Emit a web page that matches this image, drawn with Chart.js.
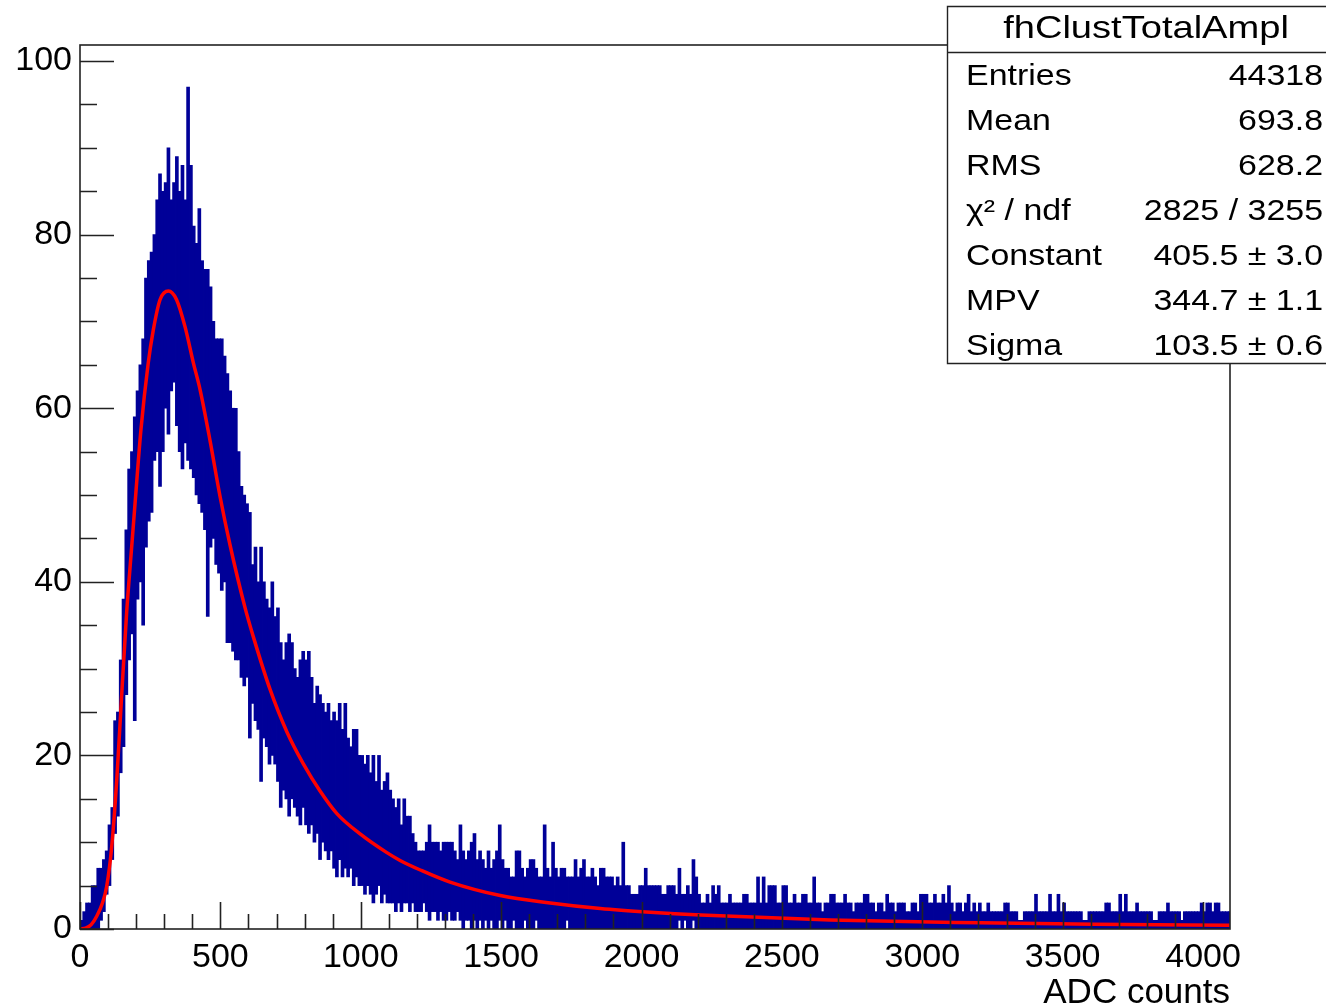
<!DOCTYPE html>
<html>
<head>
<meta charset="utf-8">
<script src="https://cdn.jsdelivr.net/npm/chart.js@4/dist/chart.umd.min.js"></script>
<style>
  html, body { margin: 0; padding: 0; background: #ffffff; }
  #wrap { width: 1326px; height: 1008px; position: relative; }
  canvas { display: block; }
</style>
</head>
<body>
<div id="wrap"><canvas id="c" width="1326" height="1008"></canvas></div>
<script>
// ---- histogram fhClustTotalAmpl, drawn as per-slice [low, high] count ranges ----
const SLICE_WIDTH = 10;      // ADC counts covered by one drawn slice
const ADC_MAX = 4096;
const Y_MAX = 101.85;

// highest bin content inside each 10-count slice (slice i starts at i*10)
const histHigh = [
  1, 2, 3, 3, 5, 5, 7, 7, 8, 9,             // 0
  12, 14, 24, 25, 31, 38, 46, 53, 55, 59,   // 100
  62, 65, 68, 75, 77, 78, 80, 84, 87, 85,   // 200
  86, 90, 84, 86, 89, 85, 88, 84, 97, 88,   // 300
  81, 79, 83, 77, 76, 76, 74, 70, 68, 68,   // 400
  68, 66, 64, 62, 60, 60, 55, 51, 50, 49,   // 500
  48, 42, 44, 40, 44, 40, 38, 37, 40, 36,   // 600
  37, 33, 31, 33, 34, 33, 30, 29, 31, 32,   // 700
  31, 32, 29, 26, 28, 27, 26, 25, 26, 24,   // 800
  25, 24, 26, 23, 26, 22, 21, 23, 23, 20,   // 900
  20, 19, 20, 18, 20, 17, 20, 16, 17, 18,   // 1000
  16, 15, 14, 15, 12, 15, 13, 13, 11, 10,   // 1100
  9, 9, 9, 10, 12, 10, 10, 10, 9, 10,       // 1200
  10, 10, 10, 9, 8, 12, 9, 8, 9, 10,        // 1300
  11, 8, 9, 8, 7, 9, 7, 8, 9, 12,           // 1400
  8, 7, 7, 6, 6, 9, 9, 7, 6, 7,             // 1500
  8, 8, 7, 6, 6, 12, 7, 6, 10, 7,           // 1600
  6, 7, 7, 6, 6, 6, 8, 6, 7, 8,             // 1700
  6, 6, 7, 6, 5, 7, 7, 6, 6, 6,             // 1800
  5, 6, 5, 10, 5, 5, 4, 4, 4, 5,            // 1900
  5, 7, 5, 5, 5, 5, 5, 4, 4, 5,             // 2000
  5, 5, 4, 7, 4, 4, 5, 4, 8, 6,             // 2100
  4, 3, 3, 4, 3, 5, 4, 5, 3, 3,             // 2200
  3, 4, 3, 3, 3, 3, 4, 4, 3, 3,             // 2300
  3, 6, 3, 6, 3, 5, 5, 5, 3, 3,             // 2400
  5, 5, 3, 3, 4, 3, 3, 4, 4, 3,             // 2500
  3, 6, 3, 3, 2, 3, 3, 4, 4, 3,             // 2600
  3, 3, 4, 3, 3, 2, 3, 3, 3, 4,             // 2700
  4, 3, 3, 2, 3, 3, 2, 4, 3, 3,             // 2800
  2, 3, 3, 3, 2, 2, 3, 3, 2, 4,             // 2900
  4, 4, 3, 3, 4, 3, 3, 4, 3, 5,             // 3000
  3, 2, 3, 3, 2, 3, 4, 2, 3, 2,             // 3100
  3, 2, 2, 3, 2, 2, 2, 2, 2, 3,             // 3200
  3, 2, 2, 2, 1, 1, 2, 2, 2, 2,             // 3300
  4, 2, 2, 2, 2, 4, 2, 2, 4, 2,             // 3400
  3, 2, 2, 2, 2, 2, 2, 1, 1, 2,             // 3500
  2, 2, 2, 2, 2, 3, 3, 2, 2, 2,             // 3600
  4, 2, 4, 2, 2, 2, 3, 2, 2, 2,             // 3700
  2, 2, 1, 1, 2, 2, 2, 3, 2, 2,             // 3800
  2, 2, 1, 2, 2, 2, 2, 2, 2, 3,             // 3900
  2, 3, 3, 2, 3, 3, 2, 2, 2, 2              // 4000
];

// lowest bin content inside each slice
const histLow = [
  0, 0, 0, 0, 0, 0, 0, 1, 2, 4,             // 0
  5, 8, 11, 13, 18, 21, 27, 31, 34, 24,     // 100
  38, 40, 35, 44, 47, 48, 54, 55, 51, 55,   // 200
  60, 57, 62, 63, 58, 55, 53, 56, 54, 53,   // 300
  52, 50, 49, 48, 46, 36, 44, 45, 42, 41,   // 400
  39, 40, 33, 33, 32, 31, 31, 29, 28, 29,   // 500
  22, 26, 24, 23, 17, 22, 21, 19, 20, 19,   // 600
  17, 14, 16, 15, 13, 15, 14, 13, 12, 14,   // 700
  12, 11, 12, 10, 11, 8, 10, 9, 8, 9,       // 800
  7, 6, 8, 6, 7, 6, 7, 5, 6, 5,             // 900
  5, 4, 5, 4, 3, 4, 5, 3, 4, 3,             // 1000
  3, 3, 2, 3, 2, 3, 3, 2, 3, 2,             // 1100
  2, 2, 3, 2, 1, 2, 2, 1, 2, 1,             // 1200
  1, 2, 1, 1, 2, 1, 0, 1, 1, 0,             // 1300
  1, 0, 1, 0, 1, 0, 1, 0, 0, 1,             // 1400
  0, 1, 0, 0, 1, 0, 0, 0, 1, 0,             // 1500
  0, 0, 1, 0, 0, 0, 0, 0, 0, 0,             // 1600
  0, 0, 0, 1, 0, 0, 0, 0, 0, 0,             // 1700
  0, 0, 0, 0, 0, 0, 0, 0, 0, 0,             // 1800
  0, 0, 0, 0, 0, 0, 0, 0, 0, 0,             // 1900
  0, 0, 0, 0, 0, 0, 0, 0, 0, 0,             // 2000
  0, 0, 0, 1, 0, 1, 0, 0, 1, 0,             // 2100
  0, 0, 0, 0, 0, 0, 0, 0, 0, 0,             // 2200
  0, 0, 0, 0, 0, 0, 0, 0, 0, 0,             // 2300
  0, 0, 0, 0, 0, 0, 0, 0, 0, 0,             // 2400
  0, 0, 0, 0, 0, 0, 0, 0, 0, 0,             // 2500
  0, 0, 0, 0, 0, 0, 0, 0, 0, 0,             // 2600
  0, 0, 0, 0, 0, 0, 0, 0, 0, 0,             // 2700
  0, 0, 0, 0, 0, 0, 0, 0, 0, 0,             // 2800
  0, 0, 0, 0, 0, 0, 0, 0, 0, 0,             // 2900
  0, 0, 0, 0, 0, 0, 0, 0, 0, 0,             // 3000
  0, 0, 0, 0, 0, 0, 0, 0, 0, 0,             // 3100
  0, 0, 0, 0, 0, 0, 0, 0, 0, 0,             // 3200
  0, 0, 0, 0, 0, 0, 0, 0, 0, 0,             // 3300
  0, 0, 0, 0, 0, 0, 0, 0, 0, 0,             // 3400
  0, 0, 0, 0, 0, 0, 0, 0, 0, 0,             // 3500
  0, 0, 0, 0, 0, 0, 0, 0, 0, 0,             // 3600
  0, 0, 0, 0, 0, 0, 0, 0, 0, 0,             // 3700
  0, 0, 0, 0, 0, 0, 0, 0, 0, 0,             // 3800
  0, 0, 0, 0, 0, 0, 0, 0, 0, 0,             // 3900
  0, 0, 0, 0, 0, 0, 0, 0, 0, 0              // 4000
];

// Landau fit curve, sampled along the ADC axis
const fitAdc = [0, 20, 40, 60, 80, 95, 113, 131, 148, 166, 184, 196, 217, 243, 261, 285,
  315, 344, 374, 404, 428, 463, 499, 534, 588, 618, 677, 737, 796, 855, 915, 1000,
  1093, 1140, 1212, 1318, 1497, 1675, 1853, 2031, 2210, 2672, 3206, 3611, 4096];
const fitValue = [0, 0.1, 0.5, 1.5, 3.0, 4.9, 9.5, 17.2, 26.7, 36.4, 44.0, 49.0, 57.5, 65.2, 69.0, 72.5,
  73.5, 72.5, 69.4, 65.2, 62.1, 56.3, 49.8, 44.3, 37.0, 33.6, 27.6, 22.7, 19.0, 15.9, 13.3, 10.9,
  8.8, 7.9, 6.8, 5.4, 3.85, 3.0, 2.35, 1.92, 1.6, 1.04, 0.72, 0.56, 0.42];

// axis ticks
const xTickValues = [0, 500, 1000, 1500, 2000, 2500, 3000, 3500, 4000];
const yTickValues = [0, 20, 40, 60, 80, 100];
const xMinorStep = 100, yMinorStep = 5;
const xAxisTitle = 'ADC counts';

// statistics box
const statsTitle = 'fhClustTotalAmpl';
const statsNames = ['Entries', 'Mean', 'RMS', 'χ² / ndf', 'Constant', 'MPV', 'Sigma'];
const statsValues = ['44318', '693.8', '628.2', '2825 / 3255', '405.5 ± 3.0', '344.7 ± 1.1', '103.5 ± 0.6'];

const FONT = '"Liberation Sans", Arial, Helvetica, sans-serif';
const HIST_COLOR = '#000098';
const FIT_COLOR = '#ff0000';
const LINE_COLOR = '#222222';

const histBars = histHigh.map((hi, i) => ({ x: i * SLICE_WIDTH + SLICE_WIDTH / 2, y: [histLow[i], hi] }));
const fitPoints = fitAdc.map((a, i) => ({ x: a, y: fitValue[i] }));

// frame, inward tick marks (drawn over the data) and the statistics box
const rootDecor = {
  id: 'rootDecor',
  afterDatasetsDraw(chart) {
    const { ctx, chartArea: a, scales: { x, y } } = chart;
    ctx.save();
    ctx.strokeStyle = LINE_COLOR;
    ctx.lineWidth = 1.6;
    ctx.beginPath();
    for (let v = 0; v <= ADC_MAX; v += xMinorStep) {
      const px = Math.round(x.getPixelForValue(v)) + 0.5;
      const len = xTickValues.includes(v) ? 27 : 15;
      ctx.moveTo(px, a.bottom);
      ctx.lineTo(px, a.bottom - len);
    }
    for (let v = 0; v <= Y_MAX; v += yMinorStep) {
      const py = Math.round(y.getPixelForValue(v)) + 0.5;
      const len = yTickValues.includes(v) ? 34 : 17;
      ctx.moveTo(a.left, py);
      ctx.lineTo(a.left + len, py);
    }
    ctx.stroke();
    ctx.strokeRect(a.left, a.top, a.right - a.left, a.bottom - a.top);
    ctx.restore();
  },
  afterDraw(chart) {
    const { ctx, width } = chart;
    const left = 947, top = 6, bottom = 363, sep = 52;
    ctx.save();
    ctx.fillStyle = '#ffffff';
    ctx.fillRect(left, top, width - left + 4, bottom - top);
    ctx.strokeStyle = LINE_COLOR;
    ctx.lineWidth = 1.4;
    ctx.beginPath();
    ctx.moveTo(width + 4, top + 0.5);
    ctx.lineTo(left + 0.5, top + 0.5);
    ctx.lineTo(left + 0.5, bottom + 0.5);
    ctx.lineTo(width + 4, bottom + 0.5);
    ctx.moveTo(left, sep + 0.5);
    ctx.lineTo(width + 4, sep + 0.5);
    ctx.stroke();

    ctx.fillStyle = '#000000';
    ctx.textBaseline = 'alphabetic';
    const stretched = (text, px, py, align, size, sx) => {
      ctx.save();
      ctx.translate(px, py);
      ctx.scale(sx, 1);
      ctx.font = size + 'px ' + FONT;
      ctx.textAlign = align;
      ctx.fillText(text, 0, 0);
      ctx.restore();
    };
    stretched(statsTitle, 1146, 38, 'center', 32, 1.19);
    statsNames.forEach((name, i) => {
      const base = 85 + i * 45;
      stretched(name, 966, base, 'left', 29, 1.17);
      stretched(statsValues[i], 1323, base, 'right', 29, 1.17);
    });
    ctx.restore();
  }
};

new Chart(document.getElementById('c'), {
  type: 'bar',
  data: {
    datasets: [
      {
        type: 'line',
        label: 'landau',
        data: fitPoints,
        borderColor: FIT_COLOR,
        borderWidth: 3.5,
        pointRadius: 0,
        cubicInterpolationMode: 'monotone',
        fill: false,
        order: 0
      },
      {
        type: 'bar',
        label: 'fhClustTotalAmpl',
        data: histBars,
        backgroundColor: HIST_COLOR,
        borderWidth: 0,
        barThickness: 3,
        grouped: false,
        order: 1
      }
    ]
  },
  options: {
    responsive: false,
    animation: false,
    devicePixelRatio: 1,
    layout: { padding: { top: 45, right: 96, left: 0, bottom: 0 } },
    plugins: { legend: { display: false }, tooltip: { enabled: false } },
    scales: {
      x: {
        type: 'linear',
        min: 0,
        max: ADC_MAX,
        offset: false,
        grid: { display: false, drawTicks: false },
        border: { display: false },
        afterBuildTicks(scale) { scale.ticks = xTickValues.map(v => ({ value: v })); },
        ticks: {
          autoSkip: false,
          maxRotation: 0,
          padding: 8,
          color: '#000000',
          font: { family: FONT, size: 34, lineHeight: 1.2 },
          callback: v => String(v)
        },
        title: {
          display: true,
          text: xAxisTitle,
          align: 'end',
          color: '#000000',
          padding: { top: 0, bottom: 0 },
          font: { family: FONT, size: 35, lineHeight: 0.85 }
        },
        afterFit(scale) { scale.height = 79; }
      },
      y: {
        min: 0,
        max: Y_MAX,
        grid: { display: false, drawTicks: false },
        border: { display: false },
        afterBuildTicks(scale) { scale.ticks = yTickValues.map(v => ({ value: v })); },
        ticks: {
          padding: 8,
          color: '#000000',
          font: { family: FONT, size: 34, lineHeight: 1.2 },
          callback: v => String(v)
        },
        afterFit(scale) { scale.width = 80; }
      }
    }
  },
  plugins: [rootDecor]
});
</script>
</body>
</html>
